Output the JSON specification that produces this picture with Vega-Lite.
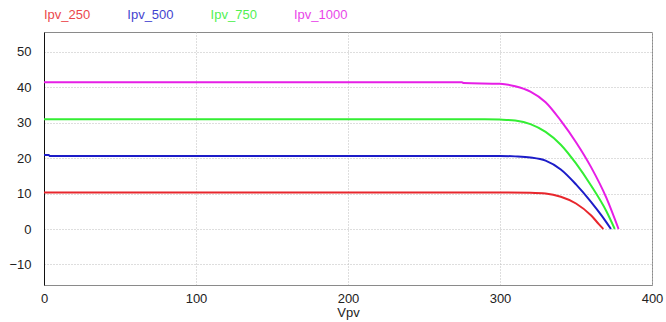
{
  "$schema": "https://vega.github.io/schema/vega-lite/v6.json",
  "autosize": {"type": "none"},
  "width": 608,
  "height": 253,
  "padding": {"left": 44, "top": 32, "right": 14, "bottom": 37},
  "background": "white",
  "config": {
    "font": "Liberation Sans",
    "view": {"stroke": "#8a8a8a", "strokeWidth": 1},
    "axis": {
      "labelFont": "Liberation Sans",
      "labelFontSize": 13,
      "labelColor": "#222222",
      "titleFont": "Liberation Sans",
      "titleFontSize": 13,
      "titleFontWeight": "normal",
      "titleColor": "#222222",
      "ticks": false,
      "gridColor": "#bdbdbd",
      "gridDash": [1, 2],
      "gridWidth": 1
    }
  },
  "data": {
    "values": [
      {"s": "Ipv_250", "v": 0, "i": 10.3},
      {"s": "Ipv_250", "v": 300, "i": 10.3},
      {"s": "Ipv_250", "v": 320, "i": 10.2},
      {"s": "Ipv_250", "v": 330, "i": 10.0},
      {"s": "Ipv_250", "v": 340, "i": 9.1},
      {"s": "Ipv_250", "v": 350, "i": 7.2},
      {"s": "Ipv_250", "v": 360, "i": 3.8},
      {"s": "Ipv_250", "v": 365, "i": 1.4},
      {"s": "Ipv_250", "v": 368, "i": 0},

      {"s": "Ipv_500", "v": 0, "i": 20.9},
      {"s": "Ipv_500", "v": 3, "i": 20.9},
      {"s": "Ipv_500", "v": 4, "i": 20.6},
      {"s": "Ipv_500", "v": 300, "i": 20.6},
      {"s": "Ipv_500", "v": 310, "i": 20.5},
      {"s": "Ipv_500", "v": 320, "i": 20.2},
      {"s": "Ipv_500", "v": 330, "i": 19.3},
      {"s": "Ipv_500", "v": 340, "i": 16.8},
      {"s": "Ipv_500", "v": 350, "i": 12.6},
      {"s": "Ipv_500", "v": 360, "i": 7.6},
      {"s": "Ipv_500", "v": 367, "i": 3.7},
      {"s": "Ipv_500", "v": 373, "i": 0},

      {"s": "Ipv_750", "v": 0, "i": 31.0},
      {"s": "Ipv_750", "v": 290, "i": 31.0},
      {"s": "Ipv_750", "v": 300, "i": 30.9},
      {"s": "Ipv_750", "v": 310, "i": 30.6},
      {"s": "Ipv_750", "v": 320, "i": 29.6},
      {"s": "Ipv_750", "v": 330, "i": 27.4},
      {"s": "Ipv_750", "v": 340, "i": 23.8},
      {"s": "Ipv_750", "v": 350, "i": 18.5},
      {"s": "Ipv_750", "v": 360, "i": 12.2},
      {"s": "Ipv_750", "v": 370, "i": 5.0},
      {"s": "Ipv_750", "v": 375.5, "i": 0},

      {"s": "Ipv_1000", "v": 0, "i": 41.4},
      {"s": "Ipv_1000", "v": 275, "i": 41.4},
      {"s": "Ipv_1000", "v": 276, "i": 41.2},
      {"s": "Ipv_1000", "v": 300, "i": 41.0},
      {"s": "Ipv_1000", "v": 310, "i": 40.3},
      {"s": "Ipv_1000", "v": 320, "i": 38.8},
      {"s": "Ipv_1000", "v": 330, "i": 35.8},
      {"s": "Ipv_1000", "v": 340, "i": 30.6},
      {"s": "Ipv_1000", "v": 350, "i": 24.5},
      {"s": "Ipv_1000", "v": 360, "i": 17.4},
      {"s": "Ipv_1000", "v": 370, "i": 8.8},
      {"s": "Ipv_1000", "v": 378, "i": 0}
    ]
  },
  "mark": {"type": "line", "strokeWidth": 2, "interpolate": "monotone"},
  "encoding": {
    "x": {
      "field": "v",
      "type": "quantitative",
      "title": "Vpv",
      "scale": {"domain": [0, 400], "nice": false},
      "axis": {
        "values": [0, 100, 200, 300, 400],
        "labelPadding": 7,
        "labelFlush": false,
        "titlePadding": 1,
        "domainColor": "#8a8a8a"
      }
    },
    "y": {
      "field": "i",
      "type": "quantitative",
      "title": null,
      "scale": {"domain": [-15.8, 55.6], "nice": false, "zero": false},
      "axis": {
        "values": [-10, 0, 10, 20, 30, 40, 50],
        "labelPadding": 13,
        "domainColor": "#111111"
      }
    },
    "color": {
      "field": "s",
      "type": "nominal",
      "scale": {
        "domain": ["Ipv_250", "Ipv_500", "Ipv_750", "Ipv_1000"],
        "range": ["#e8262c", "#1c1cc8", "#33ee33", "#e61ee6"]
      },
      "legend": {
        "title": null,
        "orient": "none",
        "legendX": -13,
        "legendY": -24,
        "direction": "horizontal",
        "gridAlign": "all",
        "symbolSize": 0,
        "symbolStrokeWidth": 0,
        "symbolOpacity": 0,
        "labelOffset": 0,
        "columnPadding": 16.3,
        "labelFontSize": 13,
        "labelFont": "Liberation Sans",
        "padding": 0,
        "encode": {
          "labels": {"update": {"fill": {"scale": "color", "field": "value"}, "opacity": {"value": 0.85}}}
        }
      }
    }
  }
}
